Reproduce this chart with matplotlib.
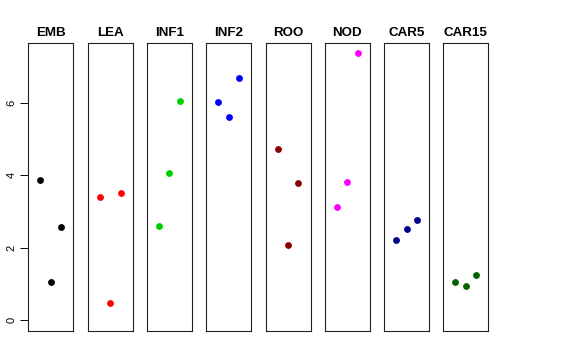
import matplotlib
matplotlib.use("Agg")
import matplotlib.pyplot as plt

# groups and the three values in each (left, middle, right)
groups = ["EMB", "LEA", "INF1", "INF2", "ROO", "NOD", "CAR5", "CAR15"]
values = [
    [3.87, 1.05, 2.58],
    [3.40, 0.46, 3.50],
    [2.60, 4.05, 6.06],
    [6.01, 5.61, 6.67],
    [4.73, 2.06, 3.78],
    [3.11, 3.82, 7.36],
    [2.21, 2.51, 2.76],
    [1.06, 0.94, 1.25],
]
colors = ["black", "red", "#00CD00", "blue", "#8B0000", "magenta", "#00008B", "#006400"]
positions = [1, 2, 3]
yticks = [0, 2, 4, 6]

plt.rcParams['font.family'] = ['Liberation Sans', 'DejaVu Sans']

fig = plt.figure(figsize=(5.76, 3.6), dpi=100)

left0 = 28.3 / 576
w = 45.0 / 576
step = 59.3 / 576
bottom = 29.0 / 360
h = 287.7 / 360

for i, g in enumerate(groups):
    ax = fig.add_axes([left0 + i * step, bottom, w, h])
    ax.plot(positions, values[i], 'o', color=colors[i], markersize=3.9)
    ax.set_xlim(-0.16, 4.16)
    ax.set_ylim(-0.3, 7.64)
    ax.set_xticks([])
    ax.set_title(g, fontsize=9.6, fontweight='bold', pad=5)
    for s in ax.spines.values():
        s.set_linewidth(0.8)
        s.set_color('#222222')
    if i == 0:
        ax.set_yticks(yticks)
        ax.set_yticklabels([str(t) for t in yticks], rotation=90, va='center', fontsize=8)
        ax.tick_params(axis='y', length=5.5, width=0.7, pad=3)
    else:
        ax.set_yticks([])

fig.savefig("out.png", dpi=100)
